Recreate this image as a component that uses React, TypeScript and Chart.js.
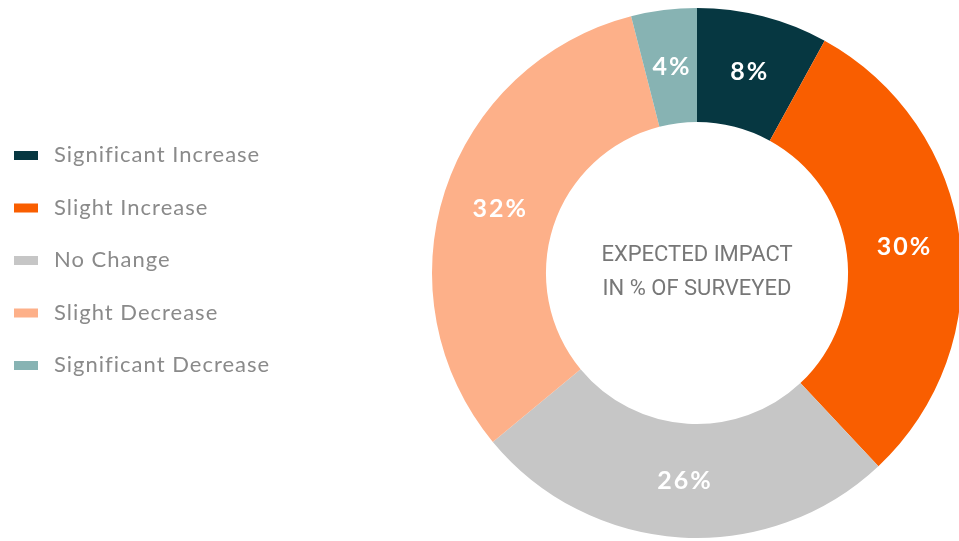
import React, { useEffect, useRef } from "react";
import { Chart, registerables } from "chart.js";

Chart.register(...registerables);

const categories = ["Significant Increase", "Slight Increase", "No Change", "Slight Decrease", "Significant Decrease"];
const values = [8, 30, 26, 32, 4];
const colors = ["#063741", "#f95e00", "#c6c6c6", "#fdb089", "#87b3b3"];
const centerLines = ["EXPECTED IMPACT", "IN % OF SURVEYED"];

const legendPlugin = {
  id: "sideLegend",
  afterDraw(chart: any) {
    const ctx = chart.ctx;
    const labels = chart.data.labels as string[];
    const bg = chart.data.datasets[0].backgroundColor as string[];
    ctx.save();
    ctx.font = "22px Lato";
    (ctx as any).letterSpacing = "1px";
    ctx.textBaseline = "middle";
    ctx.textAlign = "left";
    labels.forEach((l, i) => {
      const y = 155 + i * 52.5;
      ctx.fillStyle = bg[i];
      ctx.fillRect(14, y - 4, 24, 9);
      ctx.fillStyle = "#8a8a8a";
      ctx.fillText(l, 54, y);
    });
    ctx.restore();
  },
};

const labelPlugin = {
  id: "arcLabels",
  afterDatasetsDraw(chart: any) {
    const ctx = chart.ctx;
    const meta = chart.getDatasetMeta(0);
    const data = chart.data.datasets[0].data as number[];
    ctx.save();
    ctx.font = "bold 25px Lato";
    (ctx as any).letterSpacing = "2px";
    ctx.fillStyle = "#ffffff";
    ctx.textAlign = "center";
    ctx.textBaseline = "middle";
    meta.data.forEach((arc: any, i: number) => {
      const p = arc.tooltipPosition();
      ctx.fillText(data[i] + "%", p.x + 1, p.y);
    });
    // center text
    const arc0 = meta.data[0];
    (ctx as any).letterSpacing = "0px";
    ctx.font = "22px Roboto";
    ctx.fillStyle = "#777777";
    ctx.fillText(centerLines[0], arc0.x, arc0.y - 18);
    ctx.fillText(centerLines[1], arc0.x, arc0.y + 16);
    ctx.restore();
  },
};

export default function App() {
  const ref = useRef<HTMLCanvasElement>(null);
  useEffect(() => {
    const chart = new Chart(ref.current!, {
      type: "doughnut",
      data: {
        labels: categories,
        datasets: [
          {
            data: values,
            backgroundColor: colors,
            borderWidth: 0,
          },
        ],
      },
      options: {
        animation: false,
        responsive: false,
        cutout: "57%",
        layout: { padding: { left: 432, right: 18, top: 8, bottom: 22 } },
        plugins: { legend: { display: false }, tooltip: { enabled: false } },
      },
      plugins: [legendPlugin, labelPlugin],
    });
    return () => chart.destroy();
  }, []);
  return (
    <div style={{ position: "fixed", left: 0, top: 0, width: 959, height: 541, overflow: "hidden", background: "#fff" }}>
      <canvas ref={ref} width={980} height={560} style={{ width: 980, height: 560 }} />
    </div>
  );
}
